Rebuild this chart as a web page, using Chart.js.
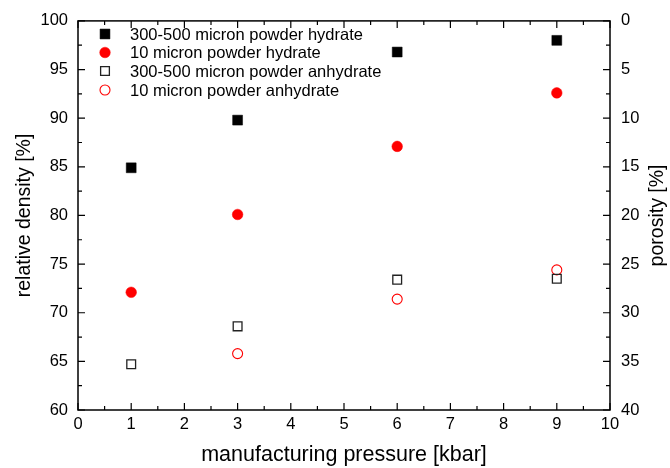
<!DOCTYPE html>
<html>
<head>
<meta charset="utf-8">
<script src="https://cdn.jsdelivr.net/npm/chart.js@4.4.1/dist/chart.umd.min.js"></script>
<style>
    html, body { margin: 0; padding: 0; background: #fff; }
    #cadre { width: 670px; height: 468px; }
</style>
</head>
<body>
<div id="cadre"><canvas id="graphique"></canvas></div>
<script>
/********************/
/* Données globales */
/********************/
var pression = [1, 3, 6, 9];
var densiteGrosHydrate = [84.9, 89.8, 96.8, 98.0];
var densiteFinHydrate = [72.1, 80.1, 87.1, 92.6];
var densiteGrosAnhydre = [64.7, 68.6, 73.4, 73.5];
var pressionFinAnhydre = [3, 6, 9];
var densiteFinAnhydre = [65.8, 71.4, 74.4];

var ticksX = [0, 1, 2, 3, 4, 5, 6, 7, 8, 9, 10];
var ticksDensite = [60, 65, 70, 75, 80, 85, 90, 95, 100];
var ticksPorosite = [0, 5, 10, 15, 20, 25, 30, 35, 40];

var libelles = [
    '300-500 micron powder hydrate',
    '10 micron powder hydrate',
    '300-500 micron powder anhydrate',
    '10 micron powder anhydrate'
];
var titrePorosite = 'porosity [%]';

var police = "'Liberation Sans', Arial, sans-serif";

//Combinaison des valeurs de x et y
function combiner(valeursX, valeursY) {
    var donneesXY = [];
    for (var i = 0; i < valeursX.length; i++) {
        donneesXY.push({ x: valeursX[i], y: valeursY[i] });
    }
    return donneesXY;
}

/*************************************************/
/* Plugin : cadre, graduations internes, légende */
/*************************************************/
var pluginCadre = {
    id: 'cadre',
    afterDraw: function(chart) {
        var ctx = chart.ctx;
        var zone = chart.chartArea;
        var sx = chart.scales.x;
        var sy = chart.scales.y;
        ctx.save();
        ctx.strokeStyle = '#000';
        ctx.lineWidth = 1.5;
        ctx.strokeRect(zone.left, zone.top, zone.right - zone.left, zone.bottom - zone.top);

        ctx.lineWidth = 1.2;
        ctx.beginPath();
        //-Graduations en x (bas et haut)
        for (var v = 0; v <= 10; v += 0.5) {
            var px = sx.getPixelForValue(v);
            var lg = (v % 1 === 0) ? 7 : 4;
            ctx.moveTo(px, zone.bottom); ctx.lineTo(px, zone.bottom - lg);
            ctx.moveTo(px, zone.top); ctx.lineTo(px, zone.top + lg);
        }
        //-Graduations en y (gauche et droite)
        for (var d = 60; d <= 100; d += 2.5) {
            var py = sy.getPixelForValue(d);
            var lgy = (d % 5 === 0) ? 7 : 4;
            ctx.moveTo(zone.left, py); ctx.lineTo(zone.left + lgy, py);
            ctx.moveTo(zone.right, py); ctx.lineTo(zone.right - lgy, py);
        }
        ctx.stroke();

        //-Titre de l'axe de droite (lu de bas en haut comme à gauche)
        ctx.fillStyle = '#000';
        ctx.font = '19.5px ' + police;
        ctx.textAlign = 'center';
        ctx.textBaseline = 'middle';
        ctx.save();
        ctx.translate(658, (zone.top + zone.bottom) / 2);
        ctx.rotate(-Math.PI / 2);
        ctx.fillText(titrePorosite, 0, 0);
        ctx.restore();

        //-Légende
        var lignes = [34, 52.5, 71, 90];
        ctx.font = '16.5px ' + police;
        ctx.textAlign = 'left';
        chart.data.datasets.forEach(function(ds, i) {
            var cx = 105, cy = lignes[i];
            ctx.beginPath();
            if (ds.pointStyle === 'rect') {
                var c = ds.pointRadius * Math.SQRT1_2;
                ctx.rect(cx - c, cy - c, 2 * c, 2 * c);
            } else {
                ctx.arc(cx, cy, ds.pointRadius, 0, Math.PI * 2);
            }
            ctx.fillStyle = ds.pointBackgroundColor;
            ctx.fill();
            ctx.lineWidth = ds.pointBorderWidth;
            ctx.strokeStyle = ds.pointBorderColor;
            ctx.stroke();
            ctx.fillStyle = '#000';
            ctx.fillText(libelles[i], 130, cy + 1);
        });
        ctx.restore();
    }
};

/**********************/
/* Création du graphe */
/**********************/
var ctx = document.getElementById('graphique').getContext('2d');
var graphe = new Chart(ctx, {
    type: 'scatter',
    data: {
        datasets: [{
            label: libelles[0],
            data: combiner(pression, densiteGrosHydrate),
            pointStyle: 'rect',
            pointRadius: 7,
            pointBackgroundColor: '#000',
            pointBorderColor: '#000',
            pointBorderWidth: 0.5
        }, {
            label: libelles[1],
            data: combiner(pression, densiteFinHydrate),
            pointStyle: 'circle',
            pointRadius: 5.3,
            pointBackgroundColor: '#ff0000',
            pointBorderColor: '#ff0000',
            pointBorderWidth: 0.5
        }, {
            label: libelles[2],
            data: combiner(pression, densiteGrosAnhydre),
            pointStyle: 'rect',
            pointRadius: 6.2,
            pointBackgroundColor: 'rgba(255,255,255,0)',
            pointBorderColor: '#222',
            pointBorderWidth: 1.3
        }, {
            label: libelles[3],
            data: combiner(pressionFinAnhydre, densiteFinAnhydre),
            pointStyle: 'circle',
            pointRadius: 5,
            pointBackgroundColor: 'rgba(255,255,255,0)',
            pointBorderColor: '#ff0000',
            pointBorderWidth: 1.1
        }]
    },
    options: {
        animation: false,
        responsive: true,
        maintainAspectRatio: false,
        layout: { padding: { top: 19, left: 0, right: 0, bottom: 0 } },
        plugins: {
            legend: { display: false },
            tooltip: { enabled: false }
        },
        scales: {
            x: {
                type: 'linear',
                position: 'bottom',
                min: 0,
                max: 10,
                afterBuildTicks: function(axe) { axe.ticks = ticksX.map(function(v) { return { value: v }; }); },
                afterFit: function(axe) { axe.height = 58; },
                grid: { display: false, drawTicks: false },
                border: { display: false },
                ticks: { color: '#000', padding: 5, maxRotation: 0, font: { family: police, size: 16.5 } },
                title: {
                    display: true,
                    text: 'manufacturing pressure [kbar]',
                    color: '#000',
                    font: { family: police, size: 21.5 },
                    padding: { top: 0, bottom: 0 }
                }
            },
            y: {
                type: 'linear',
                position: 'left',
                min: 60,
                max: 100,
                afterBuildTicks: function(axe) { axe.ticks = ticksDensite.map(function(v) { return { value: v }; }); },
                afterFit: function(axe) { axe.width = 78; },
                grid: { display: false, drawTicks: false },
                border: { display: false },
                ticks: { color: '#000', padding: 10, font: { family: police, size: 16.5 } },
                title: {
                    display: true,
                    text: 'relative density [%]',
                    color: '#000',
                    font: { family: police, size: 19.5 },
                    padding: { top: 13, bottom: 0 }
                }
            },
            y2: {
                type: 'linear',
                position: 'right',
                reverse: true,
                min: 0,
                max: 40,
                afterBuildTicks: function(axe) { axe.ticks = ticksPorosite.map(function(v) { return { value: v }; }); },
                afterFit: function(axe) { axe.width = 60; },
                grid: { display: false, drawTicks: false },
                border: { display: false },
                ticks: { color: '#000', padding: 11, font: { family: police, size: 16.5 } },
                title: { display: false }
            }
        }//Fin scales
    },//Fin options
    plugins: [pluginCadre]
});//Fin new Chart
</script>
</body>
</html>
